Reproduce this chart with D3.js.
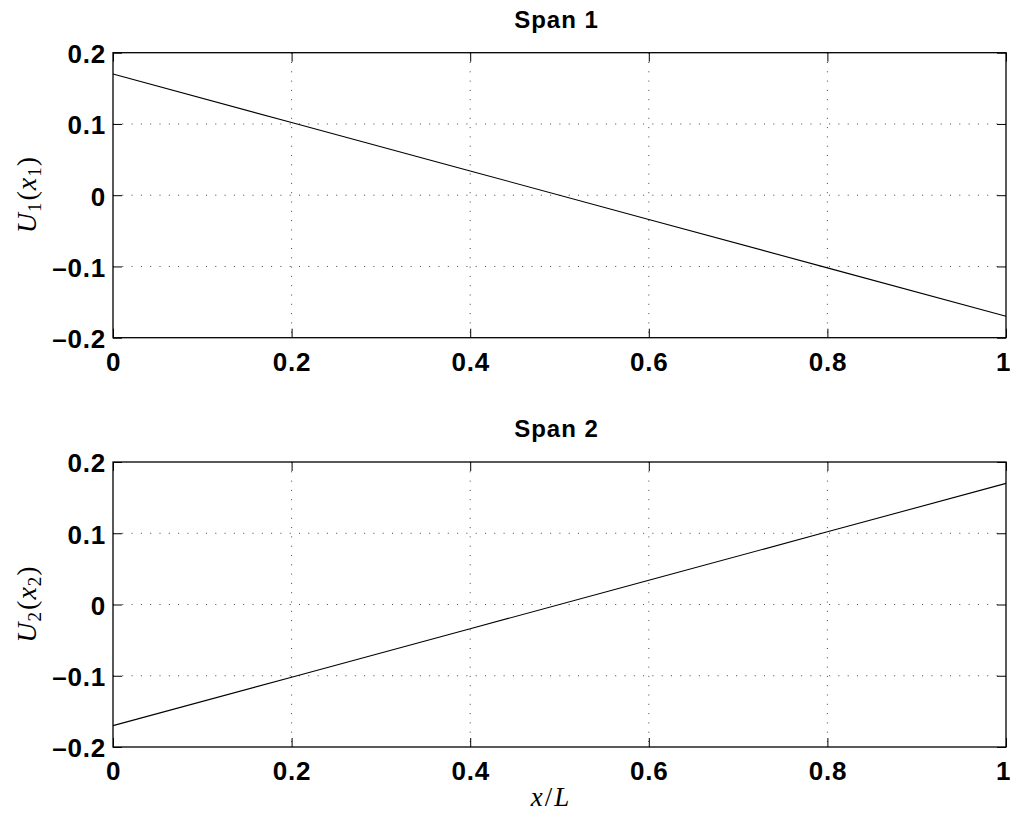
<!DOCTYPE html>
<html>
<head>
<meta charset="utf-8">
<script src="https://d3js.org/d3.v7.min.js"></script>
<style>
  html, body { margin: 0; padding: 0; background: #fff; }
  svg { display: block; }
</style>
</head>
<body>
<script>
// Mode shapes along each span, sampled at x/L positions
const xPos = [0, 0.2, 0.4, 0.6, 0.8, 1];
const span1 = [0.17, 0.102, 0.034, -0.034, -0.102, -0.17];
const span2 = [-0.17, -0.102, -0.034, 0.034, 0.102, 0.17];
const xTicks = [0, 0.2, 0.4, 0.6, 0.8, 1];
const yTicks = [-0.2, -0.1, 0, 0.1, 0.2];
const titles = ["Span 1", "Span 2"];
const yLabelSub = ["1", "2"];

const W = 1010, H = 817;
const svg = d3.select("body").append("svg").attr("width", W).attr("height", H);

const left = 113, right = 1006;
const panels = [
  { top: 52.7, bottom: 337.7, values: span1 },
  { top: 462, bottom: 747, values: span2 }
];

const sans = "Liberation Sans, Arial, Helvetica, sans-serif";
const serif = "Liberation Serif, Times New Roman, serif";

const x = d3.scaleLinear().domain([0, 1]).range([left, right]);
const fmtY = d => d === 0 ? "0" : (d < 0 ? "\u2013" + d3.format(".1f")(-d) : d3.format(".1f")(d));
const fmtX = d => (d === 0 || d === 1) ? String(d) : d3.format(".1f")(d);

function styleTickText(sel) {
  sel.attr("font-family", sans).attr("font-weight", "bold")
    .attr("font-size", 26).attr("letter-spacing", 0.8).attr("fill", "#000");
}

panels.forEach((p, i) => {
  const y = d3.scaleLinear().domain([-0.2, 0.2]).range([p.bottom, p.top]);
  const g = svg.append("g");

  // dotted grid
  g.append("g").selectAll("line").data(xTicks.slice(1, -1)).join("line")
    .attr("x1", d => x(d)).attr("x2", d => x(d))
    .attr("y1", p.top).attr("y2", p.bottom)
    .attr("stroke", "#444").attr("stroke-width", 1)
    .attr("stroke-dasharray", "1,8.3");
  g.append("g").selectAll("line").data(yTicks.slice(1, -1)).join("line")
    .attr("x1", left).attr("x2", right)
    .attr("y1", d => y(d)).attr("y2", d => y(d))
    .attr("stroke", "#444").attr("stroke-width", 1)
    .attr("stroke-dasharray", "1,8.3");

  // axes with inward ticks
  const xAxis = g.append("g").attr("transform", `translate(0,${p.bottom})`)
    .call(d3.axisBottom(x).tickValues(xTicks).tickFormat(fmtX).tickSize(-9));
  xAxis.select(".domain").remove();
  xAxis.selectAll(".tick text").attr("dy", null).attr("y", 33).call(styleTickText);
  xAxis.selectAll(".tick text").filter(d => d === 1)
    .attr("text-anchor", "end").attr("x", 4).attr("letter-spacing", 0);

  const xTop = g.append("g").attr("transform", `translate(0,${p.top})`)
    .call(d3.axisTop(x).tickValues(xTicks).tickFormat("").tickSize(-9));
  xTop.select(".domain").remove();

  const yAxis = g.append("g").attr("transform", `translate(${left},0)`)
    .call(d3.axisLeft(y).tickValues(yTicks).tickFormat(fmtY).tickSize(-9));
  yAxis.select(".domain").remove();
  yAxis.selectAll(".tick text").attr("x", -7).attr("dy", "0.38em").call(styleTickText);

  const yRight = g.append("g").attr("transform", `translate(${right},0)`)
    .call(d3.axisRight(y).tickValues(yTicks).tickFormat("").tickSize(-9));
  yRight.select(".domain").remove();
  g.selectAll(".tick line").attr("stroke", "#000").attr("stroke-width", 1);

  // box
  g.append("rect").attr("x", left).attr("y", p.top)
    .attr("width", right - left).attr("height", p.bottom - p.top)
    .attr("fill", "none").attr("stroke", "#000").attr("stroke-width", 1.3);

  // data line
  const line = d3.line().x((d, k) => x(xPos[k])).y(d => y(d));
  g.append("path").datum(p.values).attr("d", line)
    .attr("fill", "none").attr("stroke", "#000").attr("stroke-width", 1.1);

  // title
  g.append("text").attr("x", (left + right) / 2 - 3).attr("y", p.top - 25)
    .attr("text-anchor", "middle")
    .attr("font-family", sans).attr("letter-spacing", 1)
    .attr("font-weight", "bold").attr("font-size", 24)
    .text(titles[i]);

  // y label U_n(x_n)
  const yl = g.append("text")
    .attr("transform", `translate(36,${(p.top + p.bottom) / 2}) rotate(-90)`)
    .attr("text-anchor", "middle")
    .attr("font-family", serif).attr("font-size", 28);
  yl.append("tspan").attr("font-style", "italic").text("U");
  yl.append("tspan").attr("font-size", 19).attr("dy", 5).attr("dx", 1).text(yLabelSub[i]);
  yl.append("tspan").attr("dy", -5).attr("dx", 2).text("(");
  yl.append("tspan").attr("font-style", "italic").attr("dx", 1).text("x");
  yl.append("tspan").attr("font-size", 19).attr("dy", 5).attr("dx", 1).text(yLabelSub[i]);
  yl.append("tspan").attr("dy", -5).attr("dx", 1).text(")");
});

// x label
const xl = svg.append("text").attr("x", 550).attr("y", 806)
  .attr("text-anchor", "middle")
  .attr("font-family", serif).attr("font-size", 27);
xl.append("tspan").attr("font-style", "italic").text("x");
xl.append("tspan").attr("dx", 2).text("/");
xl.append("tspan").attr("font-style", "italic").attr("dx", 2).text("L");
</script>
</body>
</html>
